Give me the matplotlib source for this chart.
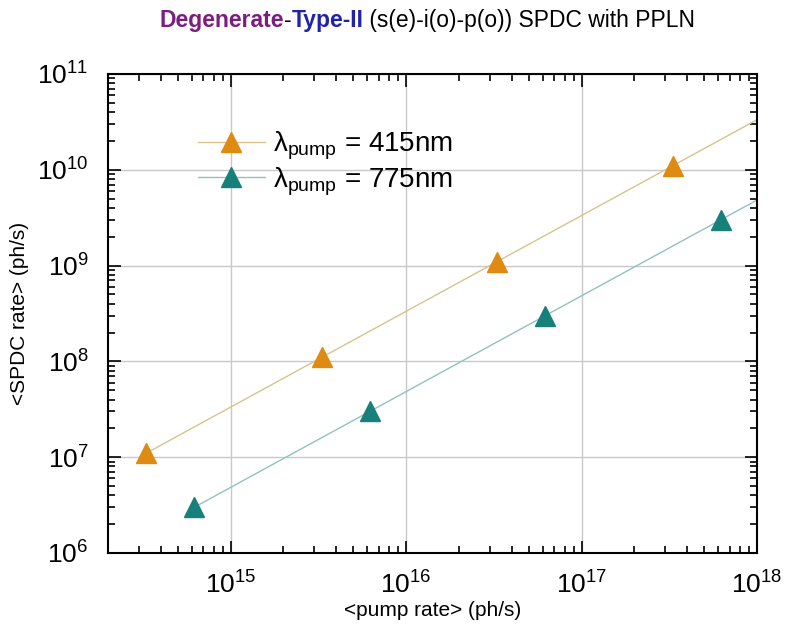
import matplotlib
matplotlib.use('Agg')
import matplotlib.pyplot as plt
import numpy as np
from matplotlib.ticker import LogLocator, NullFormatter

plt.rcParams['font.family'] = ['Liberation Sans', 'DejaVu Sans']
plt.rcParams['mathtext.fontset'] = 'custom'
plt.rcParams['mathtext.rm'] = 'Liberation Sans'
plt.rcParams['mathtext.it'] = 'Liberation Sans'

# data
pump_415 = [3.3e14, 3.3e15, 3.3e16, 3.3e17]
spdc_415 = [1.1e7, 1.1e8, 1.1e9, 1.1e10]
pump_775 = [6.2e14, 6.2e15, 6.2e16, 6.2e17]
spdc_775 = [3.0e6, 3.0e7, 3.0e8, 3.0e9]
labels = ['415nm', '775nm']

x_min, x_max = 2e14, 1e18

fig = plt.figure(figsize=(7.85, 6.39), dpi=100)
ax = fig.add_axes([0.1376, 0.1346, 0.8268, 0.7496])

series = [(pump_415, spdc_415, '#DF8A10', '#D9C38C', labels[0]),
          (pump_775, spdc_775, '#17807A', '#8FC3BF', labels[1])]
for px, py, mc, lc, lab in series:
    # straight fit in log-log space, drawn out to the right edge
    k, b = np.polyfit(np.log10(px), np.log10(py), 1)
    xf = np.logspace(np.log10(px[0]), np.log10(x_max), 50)
    ax.plot(xf, 10 ** (k * np.log10(xf) + b), color=lc, lw=1.0, zorder=2)
    ax.plot(px, py, ls='none', marker='^', ms=14, color=mc, zorder=3)
    ax.plot([], [], color=lc, lw=1.0, marker='^', ms=14, mfc=mc, mec=mc,
            label='λ$_{\\mathrm{pump}}$ = ' + lab)

ax.set_xscale('log')
ax.set_yscale('log')
ax.set_xlim(x_min, x_max)
ax.set_ylim(1e6, 1e11)

ax.xaxis.set_major_locator(LogLocator(base=10, numticks=20))
ax.yaxis.set_major_locator(LogLocator(base=10, numticks=20))
ax.xaxis.set_minor_locator(LogLocator(base=10, subs=np.arange(2, 10), numticks=20))
ax.yaxis.set_minor_locator(LogLocator(base=10, subs=np.arange(2, 10), numticks=20))
ax.xaxis.set_minor_formatter(NullFormatter())
ax.yaxis.set_minor_formatter(NullFormatter())

ax.tick_params(which='both', direction='in', top=True, right=True, width=1.2)
ax.tick_params(which='major', length=9, labelsize=19)
ax.tick_params(axis='x', which='major', pad=13)
ax.tick_params(axis='y', which='major', pad=14)
ax.tick_params(which='minor', length=5)
for s in ax.spines.values():
    s.set_linewidth(1.5)
ax.grid(True, which='major', color='#C8C8C8', lw=1.0)

ax.set_xlabel('<pump rate> (ph/s)', fontsize=15)
ax.set_ylabel('<SPDC rate> (ph/s)', fontsize=15)
ax.xaxis.set_label_coords(0.5, -0.1)
ax.yaxis.set_label_coords(-0.122, 0.5)

ax.legend(loc='upper left', bbox_to_anchor=(0.10, 0.935), frameon=False,
          fontsize=20, handlelength=2.4, labelspacing=0.1, handletextpad=0.3)

# multi-colour title, pieces placed one after the other
parts = [('Degenerate', '#7A1F7E', 'bold'), ('-', 'black', 'normal'),
         ('Type-II', '#2222AA', 'bold'), (' (s(e)-i(o)-p(o)) SPDC with PPLN', 'black', 'normal')]
fig.canvas.draw()
r = fig.canvas.get_renderer()
x = 0.203
for s, c, w in parts:
    t = fig.text(x, 0.958, s, color=c, fontweight=w, fontsize=16.5, va='baseline')
    x += t.get_window_extent(r).width / fig.bbox.width

fig.savefig('out.png', dpi=100)
